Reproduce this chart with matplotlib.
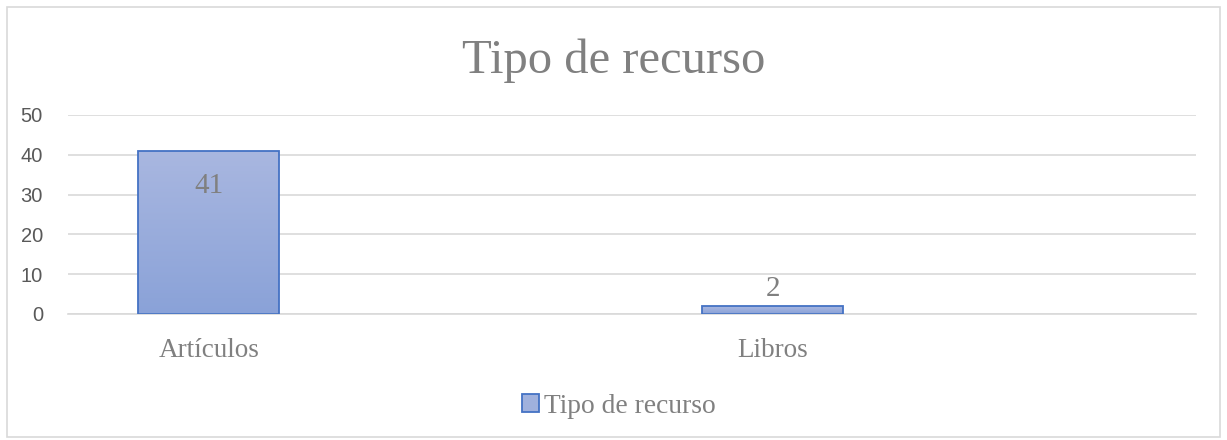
import matplotlib
matplotlib.use("Agg")
import matplotlib.pyplot as plt
import numpy as np
from matplotlib.colors import LinearSegmentedColormap
from matplotlib.patches import Rectangle

# Data (empty slots keep Excel's category spacing)
categories = ["Artículos", "", "Libros", ""]
values = [41, np.nan, 2, np.nan]
series_name = "Tipo de recurso"
yticks = [0, 10, 20, 30, 40, 50]

SERIF = "Liberation Serif"
SANS = "Liberation Sans"
GRAY = "#808080"
EDGE = "#4472c4"

fig = plt.figure(figsize=(12.27, 4.40), dpi=100)
ax = fig.add_axes([0.0554, 0.2864, 0.9193, 0.4523])

x = np.arange(len(categories))
bars = ax.bar(x, values, width=0.5, color="none", edgecolor=EDGE, linewidth=1.3, zorder=3)

# vertical gradient fill inside each bar
cmap = LinearSegmentedColormap.from_list("grad", ["#8aa2d8", "#a9b7e0"])
grad = np.linspace(0, 1, 256).reshape(-1, 1)
for b, v in zip(bars, values):
    if np.isnan(v):
        continue
    x0, w, h = b.get_x(), b.get_width(), b.get_height()
    im = ax.imshow(grad, cmap=cmap, origin="lower", aspect="auto",
                   extent=[x0, x0 + w, 0, h], zorder=2)
    im.set_clip_path(b)

# data labels
for xi, v in zip(x, values):
    if np.isnan(v):
        continue
    if v > 10:
        ax.annotate(f"{v:g}", (xi, v), xytext=(0, -16), textcoords="offset points",
                    ha="center", va="top", fontsize=21, family=SERIF, color=GRAY)
    else:
        ax.annotate(f"{v:g}", (xi, v), xytext=(0, 3), textcoords="offset points",
                    ha="center", va="bottom", fontsize=21, family=SERIF, color=GRAY)

ax.set_xlim(-0.5, len(categories) - 0.5)
ax.set_ylim(0, 50)
ax.set_yticks(yticks)
ax.set_xticks(x)
ax.set_xticklabels(categories, fontsize=19.5, family=SERIF, color=GRAY)
ax.tick_params(axis="x", length=0, pad=17)
ax.tick_params(axis="y", length=0, pad=18, labelsize=14.5, labelcolor="#595959")
for lbl in ax.get_yticklabels():
    lbl.set_family(SANS)
ax.grid(axis="y", color="#d9d9d9", linewidth=1.2, zorder=0)
ax.set_axisbelow(True)
for s in ["top", "right", "left"]:
    ax.spines[s].set_visible(False)
ax.spines["bottom"].set_color("#d9d9d9")
ax.spines["bottom"].set_linewidth(1.2)

fig.text(0.5, 0.861, series_name, ha="center", va="center",
         fontsize=35, family=SERIF, color=GRAY)

# legend
handle = Rectangle((0, 0), 1, 1, facecolor="#a0b1dd", edgecolor=EDGE, linewidth=1.3)
fig.legend([handle], [series_name], loc="center", bbox_to_anchor=(0.5045, 0.077),
           frameon=False, handlelength=0.6, handleheight=0.6, handletextpad=0.2,
           prop={"family": SERIF, "size": 19.8}, labelcolor=GRAY)

# outer chart border
fig.patches.append(Rectangle((0.006, 0.007), 0.988, 0.978, transform=fig.transFigure,
                             fill=False, edgecolor="#d9d9d9", linewidth=1.2))

fig.savefig("out.png", dpi=100)
